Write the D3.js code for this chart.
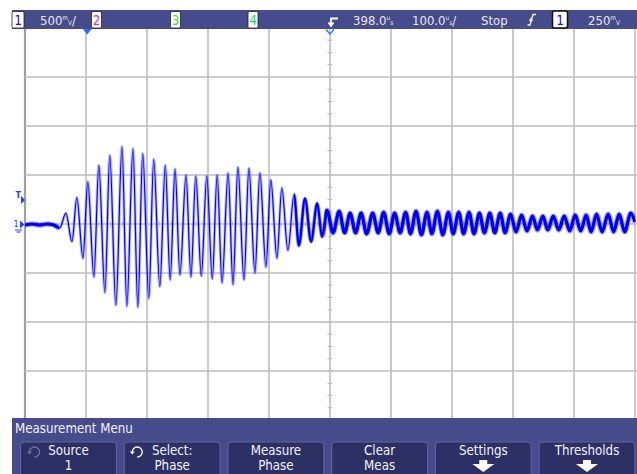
<!DOCTYPE html>
<html><head><meta charset="utf-8">
<script src="https://cdn.jsdelivr.net/npm/d3@7"></script>
<style>
body{margin:0;background:#fff}
svg{display:block}
text{font-family:"Liberation Sans Narrow","DejaVu Sans Condensed","Liberation Sans",sans-serif}
</style>
</head><body>
<svg id="c" width="637" height="474"></svg>
<script>
// ---- data (time in µs, voltage in V) ----
const waveTime = [-102,-90,-78,-66,-55,-45,-35,-25,-17,-7,1,11,19,29,37,47,57,65,75,83,91,101,109,119,128,136,144,152,162,170,178,187,196,205,213,221,231,239,247,257,265,275,283,293,301,311,319,329,339,347,357,367,377,385,393,403,
  413,422,431,440,449,458,468,477,486,495,504,513,522,530,539,548,557,565,574,583,592,600,609,617,626,634,643,651,660,668,677,685,694,703,712,721,730,738,747,755,764,773,782,791,800,809,818,826,835,844,854,863,872,881,891,898];
const waveVolt = [-0.01,0.00,-0.01,0.00,-0.01,-0.04,0.11,-0.18,0.27,-0.35,0.43,-0.54,0.60,-0.70,0.70,-0.83,0.79,-0.84,0.77,-0.85,0.72,-0.76,0.66,-0.64,0.60,-0.57,0.56,-0.52,0.50,-0.54,0.49,-0.53,0.49,-0.56,0.50,-0.60,0.52,-0.62,0.58,-0.57,0.57,-0.50,0.52,-0.44,0.45,-0.35,0.37,-0.27,0.30,-0.22,0.26,-0.18,0.21,-0.13,0.14,-0.09,
  0.13,-0.09,0.11,-0.09,0.11,-0.10,0.11,-0.09,0.12,-0.10,0.11,-0.09,0.12,-0.10,0.13,-0.11,0.12,-0.10,0.13,-0.11,0.12,-0.10,0.12,-0.10,0.12,-0.10,0.11,-0.09,0.11,-0.09,0.11,-0.09,0.10,-0.08,0.09,-0.07,0.08,-0.06,0.08,-0.06,0.08,-0.06,0.08,-0.07,0.09,-0.07,0.09,-0.08,0.10,-0.08,0.10,-0.08,0.10,-0.08,0.11,0.02];
// trace noise bands: [start µs, end µs, core width, halo width]
const noisyRanges = [[-102,-47,3.2,5.5],[340,390,2.2,4],[390,898,3.2,5.5]];

const timeDelay = 398, timePerDiv = 100, voltPerDiv = 0.5;
const headerChannelLabels = ["1","2","3","4"];
const headerTexts = {scale:"500", delay:"398.0", timebase:"100.0", run:"Stop", trigLevel:"250"};
const menuTitle = "Measurement Menu";
const buttonLine1 = ["Source","Select:","Measure","Clear","Settings","Thresholds"];
const buttonLine2 = ["1","Phase","Phase","Meas","",""];

// ---- layout ----
const svg = d3.select("#c");
const W = 637, H = 474;
const plotL = 25, plotR = 635, plotT = 28, plotB = 420;
const x = d3.scaleLinear().domain([timeDelay-5*timePerDiv, timeDelay+5*timePerDiv]).range([plotL, plotR]);
const y = d3.scaleLinear().domain([-4*voltPerDiv, 4*voltPerDiv]).range([plotB, plotT]);

svg.append("rect").attr("width",W).attr("height",H).attr("fill","#fff");

// grid
const gridT = d3.range(0,11).map(i => x.domain()[0] + i*timePerDiv);
const gridV = d3.range(0,9).map(i => y.domain()[0] + i*voltPerDiv);
const g = svg.append("g");
g.selectAll(".vg").data(gridT).join("line")
  .attr("x1",d=>x(d)).attr("x2",d=>x(d)).attr("y1",29).attr("y2",418)
  .attr("stroke",(d,i)=>i===0?"#a0a0a0":"#bdbdbd").attr("stroke-width",(d,i)=>i===0?2.2:1.6);
g.selectAll(".hg").data(gridV).join("line")
  .attr("x1",plotL).attr("x2",W).attr("y1",d=>y(d)).attr("y2",d=>y(d))
  .attr("stroke","#bdbdbd").attr("stroke-width",1.6);
// minor ticks on centre lines
const minorV = d3.range(0,33).map(i => y.domain()[0] + i*voltPerDiv/4);
g.selectAll(".mv").data(minorV).join("line")
  .attr("x1",x(timeDelay)-2.5).attr("x2",x(timeDelay)+2.5).attr("y1",d=>y(d)).attr("y2",d=>y(d))
  .attr("stroke","#bdbdbd").attr("stroke-width",1.2);
const minorT = d3.range(0,51).map(i => x.domain()[0] + i*timePerDiv/5);
g.selectAll(".mt").data(minorT).join("line")
  .attr("x1",d=>x(d)).attr("x2",d=>x(d)).attr("y1",y(0)-2.5).attr("y2",y(0)+2.5)
  .attr("stroke","#bdbdbd").attr("stroke-width",1.2);

// waveform
const pts = waveTime.map((t,i)=>[t, waveVolt[i]]);
const line = d3.line().x(d=>x(d[0])).y(d=>y(d[1])).curve(d3.curveMonotoneX);
const defs = svg.append("defs");
noisyRanges.forEach((r,i)=>{
  defs.append("clipPath").attr("id","nz"+i).append("rect")
    .attr("x",x(r[0])-0.5).attr("y",0).attr("width",x(r[1])-x(r[0])+1).attr("height",H);
});
const wg = svg.append("g");
wg.append("path").attr("d",line(pts)).attr("fill","none").attr("stroke","#6b6bff").attr("stroke-opacity",0.45).attr("stroke-width",3);
wg.append("path").attr("d",line(pts)).attr("fill","none").attr("stroke","#0000ff").attr("stroke-width",1.2);
noisyRanges.forEach((r,i)=>{
  wg.append("path").attr("d",line(pts)).attr("fill","none").attr("clip-path","url(#nz"+i+")")
    .attr("stroke","#3a3aff").attr("stroke-opacity",0.4).attr("stroke-width",r[3]);
  wg.append("path").attr("d",line(pts)).attr("fill","none").attr("clip-path","url(#nz"+i+")")
    .attr("stroke","#0000f0").attr("stroke-width",r[2]);
});

// left gutter markers
const blue = "#1f3cff";
const mk = svg.append("g").attr("fill",blue);
mk.append("text").attr("x",15.5).attr("y",198).attr("font-size",9).attr("font-weight","bold").text("T");
mk.append("path").attr("d","M21,196 L25,200 L21,204 Z");
mk.append("text").attr("x",13.5).attr("y",227).attr("font-size",9).text("1");
mk.append("path").attr("d","M20,220.5 L24.5,224.5 L20,228.5 Z");
mk.append("path").attr("d","M15,230 H22 M16.5,232 H20.5").attr("stroke",blue).attr("stroke-width",1);

// header bar
const hb = svg.append("g");
hb.append("rect").attr("x",12).attr("y",10).attr("width",W-12).attr("height",19).attr("fill","#464b8c");
const chanBox = [[12,24,"#1010ff"],[91.5,101.5,"#e020e0"],[170.5,180.5,"#40e040"],[248,258,"#20d870"]];
chanBox.forEach((b,i)=>{
  hb.append("rect").attr("x",b[0]).attr("y",11.5).attr("width",b[1]-b[0]).attr("height",16.5).attr("rx",1.5)
    .attr("fill","#fff").attr("stroke","#222").attr("stroke-width",0.8);
  hb.append("text").attr("x",(b[0]+b[1])/2).attr("y",25).attr("text-anchor","middle")
    .attr("font-size",13.5).attr("fill",b[2]).text(headerChannelLabels[i]);
});
const ht = (xx, main, unitTop, unitBot, suffix) => {
  const t = hb.append("text").attr("x",xx).attr("y",24.5).attr("font-size",13).attr("fill","#e8e8f0");
  t.append("tspan").text(main);
  t.append("tspan").attr("font-size",6.5).attr("dy",-5).text(unitTop);
  t.append("tspan").attr("font-size",6.5).attr("dy",5).text(unitBot);
  if (suffix) t.append("tspan").attr("font-size",13).text(suffix);
};
ht(40, headerTexts.scale, "m","V","/");
ht(353, headerTexts.delay, "u","s","");
ht(412, headerTexts.timebase, "u","s","/");
hb.append("text").attr("x",481).attr("y",24.5).attr("font-size",13).attr("fill","#e8e8f0").text(headerTexts.run);
ht(588, headerTexts.trigLevel, "m","V","");
// trigger slope icon
hb.append("path").attr("d","M527.5,25 H530 L533,14.5 H536 M529.5,21 L531,18.5 L532.5,21")
  .attr("fill","none").attr("stroke","#f0f0f0").attr("stroke-width",1.4);
// trigger source box
hb.append("rect").attr("x",552.5).attr("y",11).attr("width",15).attr("height",17).attr("rx",2)
  .attr("fill","#fff").attr("stroke","#111").attr("stroke-width",1.5);
hb.append("text").attr("x",560).attr("y",25).attr("text-anchor","middle").attr("font-size",13.5).attr("fill","#1010ff").text("1");
// delay icon in header
hb.append("path").attr("d","M338,18.5 H331 V25 M328.5,22.5 L331,26 L333.5,22.5")
  .attr("fill","none").attr("stroke","#fff").attr("stroke-width",1.8);
// markers under header
svg.append("path").attr("d",`M${x(0)-4.5},29 H${x(0)+4.5} L${x(0)},34.5 Z`).attr("fill","#2a6cff");
svg.append("path").attr("d",`M${x(timeDelay)-4},29.5 L${x(timeDelay)},34 L${x(timeDelay)+4},29.5`)
  .attr("fill","none").attr("stroke","#2a6cff").attr("stroke-width",1.3);

// menu
const mn = svg.append("g");
mn.append("rect").attr("x",12).attr("y",418).attr("width",W-12).attr("height",H-418).attr("fill","#464b8c");
mn.append("text").attr("x",15).attr("y",433).attr("font-size",13.2).attr("fill","#f2f2f8").text(menuTitle);
const bx = d3.scaleBand().domain(d3.range(6)).range([19.5, 636]).paddingInner(0.075).paddingOuter(0.01);
buttonLine1.forEach((l1,i)=>{
  const x0 = bx(i), w = bx.bandwidth(), cx = x0 + w/2;
  mn.append("rect").attr("x",x0).attr("y",442).attr("width",w).attr("height",40).attr("rx",4)
    .attr("fill","#2c3064").attr("stroke","#5d629e").attr("stroke-width",1.2);
  mn.append("text").attr("x",cx).attr("y",455).attr("text-anchor","middle").attr("font-size",13.2).attr("fill","#f2f2f8").text(l1);
  if (buttonLine2[i]) {
    mn.append("text").attr("x",cx).attr("y",470).attr("text-anchor","middle").attr("font-size",13.2).attr("fill","#f2f2f8").text(buttonLine2[i]);
  } else {
    mn.append("path").attr("d",`M${cx-4},460 H${cx+4} V464 H${cx+11} L${cx},472 L${cx-11},464 H${cx-4} Z`).attr("fill","#fff");
  }
});
// rotate icons on Source / Select
const icon = (cx, cy, col) => {
  mn.append("path").attr("d",`M${cx-5},${cy} A5,5 0 1 1 ${cx},${cy+5}`).attr("fill","none").attr("stroke",col).attr("stroke-width",1.3);
  mn.append("path").attr("d",`M${cx-7.5},${cy-0.5} H${cx-2.5} L${cx-5},${cy+2.5} Z`).attr("fill",col);
};
icon(bx(0)+14, 452, "#6d72a8");
icon(bx(1)+13, 452, "#ffffff");
</script>
</body></html>
